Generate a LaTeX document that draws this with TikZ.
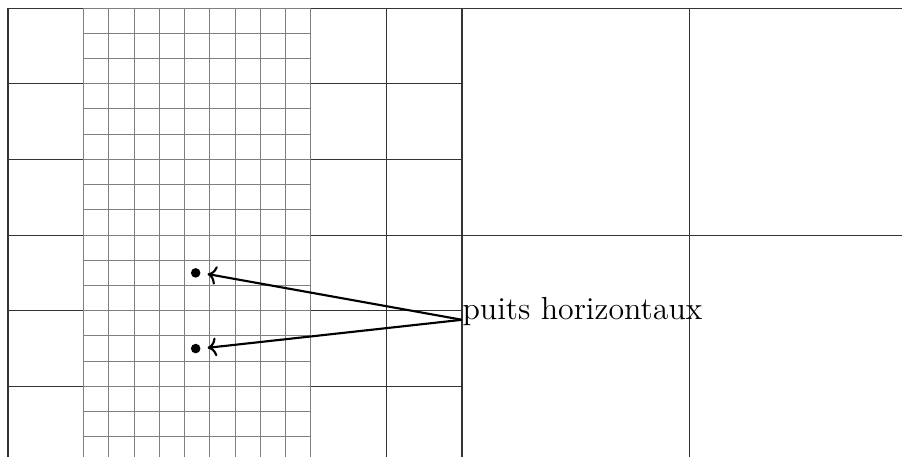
\documentclass[tikz,border=0pt]{standalone}
\usepackage{xcolor}
\usetikzlibrary{arrows.meta}
\begin{document}
\begin{tikzpicture}[coarse/.style={draw=black!80,line width=0.4pt},fine/.style={draw=black!50,line width=0.35pt},well/.style={circle,fill=black,inner sep=0pt,minimum size=3.6pt},lbl/.style={font=\large,inner sep=0pt}]
\useasboundingbox (-0.106,0.08) rectangle (11.814,6.106);
\clip (-0.106,0.08) rectangle (11.814,6.106);
% coarse cells
\draw[coarse] (0,0) grid (6,6);
\draw[coarse] (6,0) grid[step=3] (12,6);
% refined zone
\foreach \i in {0,...,9}{\draw[fine] ({1+\i/3},0) -- ({1+\i/3},6);}
\foreach \j in {0,...,18}{\draw[fine] (1,{\j/3}) -- (4,{\j/3});}
% wells
\node[well] (w1) at (2.48,2.5){};
\node[well] (w2) at (2.48,1.5){};
\node[lbl,anchor=base west] (lab) at (6,1.88){puits horizontaux};
\draw[->,thick,shorten >=2.5pt] (lab.base west) -- (w1.east);
\draw[->,thick,shorten >=2.5pt] (lab.base west) -- (w2.east);
\end{tikzpicture}
\end{document}
